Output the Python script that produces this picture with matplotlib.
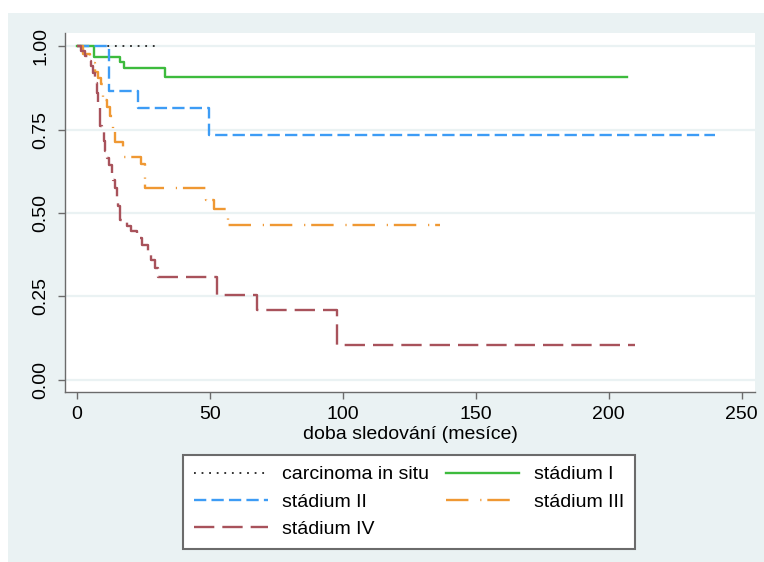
import matplotlib
matplotlib.use("Agg")
import matplotlib.pyplot as plt
from matplotlib.patches import Rectangle

plt.rcParams['font.family'] = ['Liberation Sans', 'DejaVu Sans']

# ---- data (Kaplan-Meier step curves) ----
t_cis = [0, 30.5]
s_cis = [1.0, 1.0]

t_st1 = [0, 6.4, 16.2, 17.8, 33.0, 207]
s_st1 = [1.0, 0.968, 0.952, 0.935, 0.906, 0.906]

t_st2 = [0, 12.0, 22.8, 49.6, 240]
s_st2 = [1.0, 0.865, 0.813, 0.733, 0.733]

t_st3 = [0, 2.4, 5.0, 6.8, 8.0, 9.0, 9.8, 11.4, 12.3, 13.6, 14.3, 17.5, 23.9, 25.6, 48.7, 51.5, 56.9, 136.5]
s_st3 = [1.0, 0.975, 0.95, 0.923, 0.903, 0.885, 0.838, 0.818, 0.79, 0.75, 0.713, 0.668, 0.647, 0.574, 0.539, 0.511, 0.464, 0.464]

t_st4 = [0, 1.5, 3.0, 4.5, 5.3, 6.1, 6.8, 7.4, 8.0, 8.6, 9.3, 10.0, 10.5, 11.2, 12.2, 13.0, 13.6, 14.3,
         14.9, 15.4, 16.2, 18.7, 20.5, 22.4, 24.5, 26.8, 28.0, 29.3, 30.6, 52.7, 67.8, 97.9, 210]
s_st4 = [1.0, 0.985, 0.97, 0.955, 0.94, 0.92, 0.89, 0.86, 0.83, 0.76, 0.745, 0.715, 0.685, 0.665, 0.645, 0.62, 0.60, 0.575,
         0.535, 0.52, 0.48, 0.46, 0.445, 0.425, 0.405, 0.38, 0.36, 0.335, 0.309, 0.254, 0.21, 0.104, 0.104]

labels = ["carcinoma in situ", "stádium I", "stádium II", "stádium III", "stádium IV"]
x_ticks = [0, 50, 100, 150, 200, 250]
y_ticks = [0.00, 0.25, 0.50, 0.75, 1.00]
y_ticklabels = ["0.00", "0.25", "0.50", "0.75", "1.00"]
x_label = "doba sledování (mesíce)"

# ---- figure ----
W, H = 764, 562
fig = plt.figure(figsize=(W / 100, H / 100), dpi=100)
fig.patch.set_facecolor('white')
bg = '#EAF2F3'
fig.patches.append(Rectangle((8 / W, 0), 1, (H - 13) / H, transform=fig.transFigure,
                             facecolor=bg, edgecolor='none', zorder=-10))

ax = fig.add_axes([65 / W, 1 - 392 / H, (755 - 65) / W, (392 - 33) / H])
ax.set_facecolor('white')

lw = 1.7
l_cis, = ax.step(t_cis, s_cis, where='post', color='#222222', lw=1.3, linestyle=(0, (1, 3.2)))
l1, = ax.step(t_st1, s_st1, where='post', color='#3dbb3d', lw=lw, linestyle='-')
l2, = ax.step(t_st2, s_st2, where='post', color='#3d9cf5', lw=lw, linestyle=(0, (5.2, 2.2)))
l3, = ax.step(t_st3, s_st3, where='post', color='#ef9833', lw=lw, linestyle=(0, (9.5, 5, 0.5, 2.5)))
l4, = ax.step(t_st4, s_st4, where='post', color='#a8525b', lw=lw, linestyle=(0, (8.6, 3.4)))

ax.set_xlim(-4.5, 255)
ax.set_ylim(-0.036, 1.039)
ax.set_xticks(x_ticks)
ax.set_xticklabels([str(v) for v in x_ticks])
ax.set_yticks(y_ticks)
ax.set_yticklabels(y_ticklabels, rotation=90, va='center')
ax.grid(axis='y', color=bg, lw=1.6, zorder=0)
ax.set_axisbelow(True)

for s in ['top', 'right']:
    ax.spines[s].set_visible(False)
for s in ['left', 'bottom']:
    ax.spines[s].set_color('#6b6b6b')
    ax.spines[s].set_linewidth(1.0)
ax.tick_params(axis='both', colors='#6b6b6b', labelcolor='black', length=5, width=1.0, labelsize=14)
ax.tick_params(axis='x', pad=5)
ax.tick_params(axis='y', pad=6)
ax.set_xlabel(x_label, fontsize=14, labelpad=2)

handles = [l_cis, l2, l4, l1, l3]
hl = [labels[0], labels[2], labels[4], labels[1], labels[3]]
leg = fig.legend(handles, hl, ncol=2, loc='upper left',
                 bbox_to_anchor=(183 / W, 1 - 546 / H, (635 - 183) / W, (546 - 455) / H),
                 mode='expand', fontsize=14, frameon=True, fancybox=False,
                 handlelength=3.8, handletextpad=0.75, borderaxespad=0, borderpad=0.55,
                 labelspacing=0.5, columnspacing=1.0)
fr = leg.get_frame()
fr.set_edgecolor('#6b6b6b')
fr.set_linewidth(1.5)
fr.set_facecolor('white')
fr.set_alpha(1)

fig.savefig('out.png', dpi=100)
